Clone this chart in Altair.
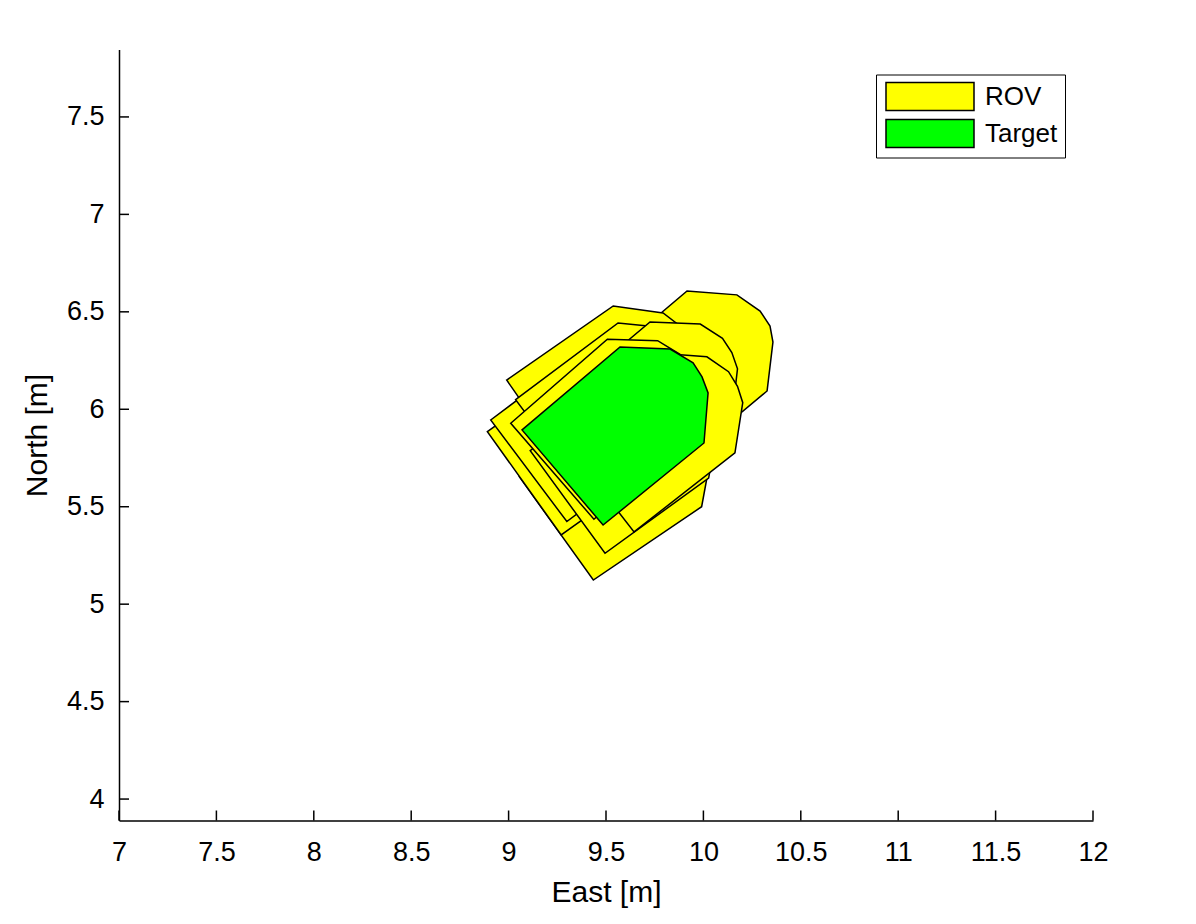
import altair as alt
import pandas as pd

# ---- axis ticks ----
x_ticks = [7, 7.5, 8, 8.5, 9, 9.5, 10, 10.5, 11, 11.5, 12]
y_ticks = [4, 4.5, 5, 5.5, 6, 6.5, 7, 7.5]
x_domain = [7, 12]
y_domain = [3.89, 7.846]

# ---- ROV footprints (drawn bottom to top), East / North in metres ----
rov1_x = [9.413, 9.916, 10.172, 10.291, 10.342, 10.357, 10.327, 9.829]
rov1_y = [6.181, 6.607, 6.587, 6.504, 6.427, 6.345, 6.094, 5.678]

rov2_x = [8.990, 9.537, 9.793, 9.900, 9.942, 9.962, 9.911, 9.361]
rov2_y = [6.150, 6.530, 6.494, 6.412, 6.335, 6.253, 5.996, 5.617]

rov3_x = [9.055, 9.612, 9.868, 9.974, 10.015, 10.037, 9.991, 9.435]
rov3_y = [5.654, 6.030, 5.994, 5.912, 5.835, 5.750, 5.500, 5.124]

rov4_x = [8.891, 9.425, 9.681, 9.789, 9.831, 9.854, 9.804, 9.270]
rov4_y = [5.885, 6.267, 6.236, 6.155, 6.079, 5.994, 5.737, 5.355]

rov5_x = [8.908, 9.434, 9.690, 9.800, 9.844, 9.869, 9.825, 9.299]
rov5_y = [5.945, 6.339, 6.314, 6.235, 6.160, 6.075, 5.818, 5.424]

rov6_x = [9.111, 9.643, 9.899, 10.008, 10.051, 10.074, 10.027, 9.495]
rov6_y = [5.788, 6.174, 6.145, 6.066, 5.989, 5.905, 5.647, 5.261]

rov7_x = [9.036, 9.562, 9.818, 9.928, 9.972, 9.997, 9.953, 9.427]
rov7_y = [6.049, 6.443, 6.417, 6.339, 6.263, 6.179, 5.921, 5.527]

rov8_x = [9.223, 9.726, 9.984, 10.098, 10.146, 10.175, 10.145, 9.642]
rov8_y = [6.026, 6.448, 6.437, 6.364, 6.291, 6.208, 5.949, 5.526]

rov9_x = [9.243, 9.761, 10.018, 10.129, 10.175, 10.202, 10.162, 9.644]
rov9_y = [5.885, 6.289, 6.269, 6.193, 6.118, 6.034, 5.776, 5.371]

rov10_x = [9.011, 9.507, 9.765, 9.880, 9.930, 9.961, 9.934, 9.438]
rov10_y = [5.928, 6.359, 6.352, 6.282, 6.209, 6.127, 5.867, 5.436]

# ---- Target footprint ----
target_x = [9.069, 9.572, 9.829, 9.947, 9.993, 10.024, 10.003, 9.485]
target_y = [5.894, 6.320, 6.309, 6.238, 6.166, 6.084, 5.827, 5.406]

polys = [
    ("rov1", "ROV", rov1_x, rov1_y),
    ("rov2", "ROV", rov2_x, rov2_y),
    ("rov3", "ROV", rov3_x, rov3_y),
    ("rov4", "ROV", rov4_x, rov4_y),
    ("rov5", "ROV", rov5_x, rov5_y),
    ("rov6", "ROV", rov6_x, rov6_y),
    ("rov7", "ROV", rov7_x, rov7_y),
    ("rov8", "ROV", rov8_x, rov8_y),
    ("rov9", "ROV", rov9_x, rov9_y),
    ("rov10", "ROV", rov10_x, rov10_y),
    ("target", "Target", target_x, target_y),
]

rows = []
for name, kind, xs, ys in polys:
    for i, (xv, yv) in enumerate(zip(xs, ys)):
        rows.append({"poly": name, "kind": kind, "i": i, "x": xv, "y": yv})
df = pd.DataFrame(rows)

W, H = 974, 771
FONT = "Liberation Sans"

xscale = alt.Scale(domain=x_domain, nice=False, zero=False)
yscale = alt.Scale(domain=y_domain, nice=False, zero=False)

xaxis = alt.Axis(title="East [m]", values=x_ticks, format=".1~f", grid=False,
                 ticks=False, tickSize=0, labelPadding=19, labelFontSize=27,
                 labelFlush=False, labelOverlap=False,
                 titleFontSize=30, titleFontWeight="normal", titlePadding=12,
                 domainColor="black", domainWidth=1.5, labelColor="black",
                 titleColor="black", labelFont=FONT, titleFont=FONT)
yaxis = alt.Axis(title="North [m]", values=y_ticks, format=".1~f", grid=False,
                 ticks=False, tickSize=0, labelPadding=15, labelFontSize=27,
                 labelFlush=False, labelOverlap=False,
                 titleFontSize=30, titleFontWeight="normal", titlePadding=14,
                 domainColor="black", domainWidth=1.5, labelColor="black",
                 titleColor="black", labelFont=FONT, titleFont=FONT)

legend = alt.Legend(
    title=None, orient="none", legendX=757, legendY=25,
    symbolType="M-3.143,-1L3.143,-1L3.143,1L-3.143,1Z", symbolSize=784,
    symbolStrokeColor="black", symbolStrokeWidth=1.5, symbolOpacity=1,
    symbolOffset=32, labelOffset=40,
    labelFontSize=26, labelFont=FONT, labelColor="black",
    strokeColor="black", fillColor="white", padding=7, rowPadding=3,
)

fill = alt.Fill("kind:N", scale=alt.Scale(domain=["ROV", "Target"],
                                          range=["#ffff00", "#00ff00"]),
                legend=legend)

base = alt.Chart(df)
layers = []
for name, kind, _, _ in polys:
    layers.append(
        base.transform_filter(alt.datum.poly == name)
        .mark_line(interpolate="linear-closed", stroke="black", strokeWidth=1.5,
                   strokeJoin="miter")
        .encode(
            x=alt.X("x:Q", scale=xscale, axis=xaxis),
            y=alt.Y("y:Q", scale=yscale, axis=yaxis),
            fill=fill,
            order=alt.Order("i:Q"),
        )
    )

xt = pd.DataFrame({"x": x_ticks})
yt = pd.DataFrame({"y": y_ticks})
xtick_layer = alt.Chart(xt).mark_rule(color="black", strokeWidth=1.5).encode(
    x=alt.X("x:Q", scale=xscale, axis=xaxis),
    y=alt.value(H), y2=alt.value(H - 10))
ytick_layer = alt.Chart(yt).mark_rule(color="black", strokeWidth=1.5).encode(
    y=alt.Y("y:Q", scale=yscale, axis=yaxis),
    x=alt.value(0), x2=alt.value(10))

chart = alt.layer(*layers, xtick_layer, ytick_layer).properties(
    width=W, height=H,
    autosize=alt.AutoSizeParams(type="none"),
    padding={"left": 111, "top": 41.5, "right": 90, "bottom": 90},
).configure(font=FONT).configure_view(stroke="transparent", strokeWidth=0)

chart.save("out.html", embed_options={"renderer": "svg", "actions": False})
